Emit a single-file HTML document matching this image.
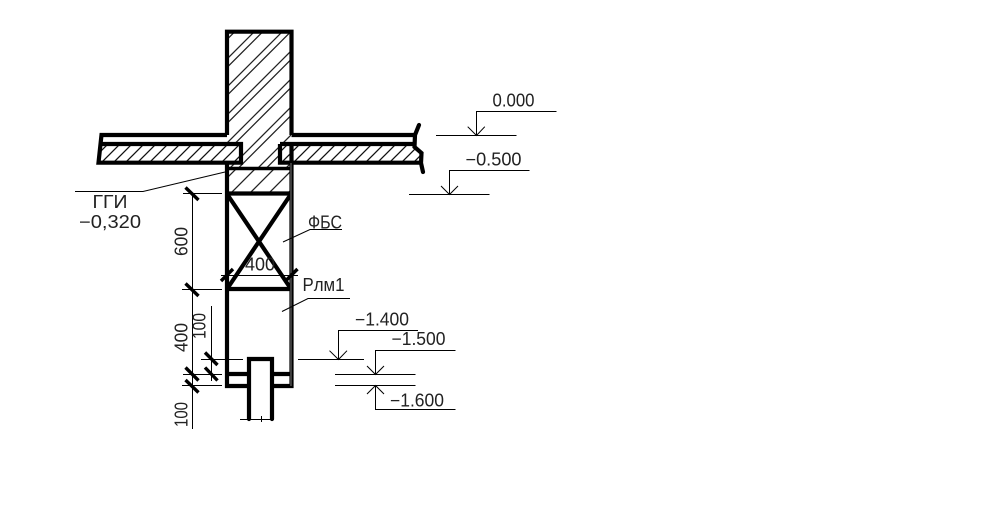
<!DOCTYPE html>
<html>
<head>
<meta charset="utf-8">
<style>
html,body{margin:0;padding:0;background:#fff;}
svg{display:block;}
text{font-family:"Liberation Sans",sans-serif;font-size:18px;fill:#222;}
</style>
</head>
<body>
<svg width="982" height="509" viewBox="0 0 982 509" xmlns="http://www.w3.org/2000/svg">
<defs>
<pattern id="h1" patternUnits="userSpaceOnUse" width="28" height="28">
<path d="M7 -1L-1 7M15.5 -1L-1 15.5M35 -1L-1 35M43.5 -1L-1 43.5" stroke="#222" stroke-width="1.3" fill="none"/>
</pattern>
<pattern id="h2" patternUnits="userSpaceOnUse" width="12" height="12">
<path d="M-1 13L13 -1M-7 7L7 -7M5 19L19 5" stroke="#111" stroke-width="1.3" fill="none"/>
</pattern>
<pattern id="h3" patternUnits="userSpaceOnUse" width="19" height="19" patternTransform="translate(6 0)">
<path d="M-1 20L20 -1M-10 10L10 -10M9 29L29 9" stroke="#222" stroke-width="1.3" fill="none"/>
</pattern>
</defs>
<rect width="982" height="509" fill="#fff"/>

<!-- hatching -->
<rect x="227" y="32" width="64" height="136" fill="url(#h1)"/>
<rect x="227" y="168" width="64" height="25" fill="url(#h3)"/>
<rect x="98" y="144" width="143" height="19" fill="#fff"/>
<polygon points="99.5,144 241,144 241,163 98,163" fill="url(#h2)"/>
<rect x="280" y="144" width="140" height="19" fill="#fff"/>
<polygon points="280,144 415,144 421,153 421,163 280,163" fill="url(#h2)"/>

<!-- heavy outlines -->
<g fill="none" stroke="#000" stroke-width="4.2">
<path d="M227 135V31.7H291.5V135"/>
<path d="M227 135H101.5L98.5 162.7H241V144H99.5"/>
<path d="M291.5 135H415"/>
<path d="M280 144H415M280 144V162.7H421"/>
<path d="M419 125L415 135L414.5 147L421.5 153L421 163L423 172" stroke-linecap="round"/>
<path d="M227 163V386H249M291.5 144V386H272"/>
<path d="M227 168.5H291.5" stroke-width="3.4"/>
<path d="M227 193.5H291.5"/>
<path d="M227 289H291.5"/>
<path d="M227 194L291 289M291 194L227 289"/>
<path d="M227 374H249M272 374H291.5"/>
<path d="M249 419V359H272V419" stroke-linecap="round"/>
</g>
<rect x="290.6" y="163" width="0.8" height="223" fill="#999"/>

<!-- dimensions -->
<g fill="none" stroke="#000" stroke-width="1">
<path d="M192.5 193V429"/>
<path d="M183 193.5H222M182 289.5H222M183 374.5H222M182 385.5H222"/>
<path d="M211.5 306V381M201 359.5H243"/>
<path d="M221 275.5H298"/>
<path d="M240 419.5H274M261.5 416V422"/>
<path d="M75 191.5H143L225 172"/>
<path d="M283 242L310 229.5H342"/>
<path d="M282 311.5L308 298.5H350"/>
<path d="M436 135.5H516.5M476.5 135.5V111.5H556.5M467.7 126.7L476.5 135.5L484.8 126.7"/>
<path d="M409 194.5H489.5M449.5 194.5V170.5H529.5M441 186L449.5 194.5L458 186"/>
<path d="M298 359.5H364M338.5 359.5V330.5H418M329.5 350.7L338.5 359.5L347 350.7"/>
<path d="M375.5 374.5V350.5H455.5M367 366L375.5 374.5L384 366"/>
<path d="M335 374.5H415.5M335 385.5H415.5"/>
<path d="M375.5 385.5V409.5H455.5M367 394L375.5 385.5L384 394"/>
</g>
<g fill="none" stroke="#000" stroke-width="3.4">
<path d="M185.5 187.5L198.5 200M185.5 283.5L198.5 296M185.5 367.5L198.5 380.5M185.5 380L198.5 392.5"/>
<path d="M205 352.5L217.5 365M205 367.5L217.5 380.5"/>
<path d="M221 281L233 269M285.5 281L297.5 269"/>
</g>

<!-- labels -->
<text x="492.5" y="106.5" textLength="42" lengthAdjust="spacingAndGlyphs">0.000</text>
<text x="465.5" y="165.5" textLength="56" lengthAdjust="spacingAndGlyphs">−0.500</text>
<text x="355" y="325.5" textLength="54" lengthAdjust="spacingAndGlyphs">−1.400</text>
<text x="391.5" y="345" textLength="54" lengthAdjust="spacingAndGlyphs">−1.500</text>
<text x="390" y="406.5" textLength="54" lengthAdjust="spacingAndGlyphs">−1.600</text>
<text x="92.5" y="208" textLength="35" lengthAdjust="spacingAndGlyphs">ГГИ</text>
<text x="79" y="228" textLength="62" lengthAdjust="spacingAndGlyphs">−0,320</text>
<text x="308" y="228.5" textLength="34" lengthAdjust="spacingAndGlyphs">ФБС</text>
<text x="302.5" y="291" textLength="42" lengthAdjust="spacingAndGlyphs">Рлм1</text>
<text x="245" y="270.5" textLength="30" lengthAdjust="spacingAndGlyphs">400</text>
<text transform="translate(187.5 256) rotate(-90)" textLength="29" lengthAdjust="spacingAndGlyphs">600</text>
<text transform="translate(187.5 352) rotate(-90)" textLength="29" lengthAdjust="spacingAndGlyphs">400</text>
<text transform="translate(187.5 427) rotate(-90)" textLength="25" lengthAdjust="spacingAndGlyphs">100</text>
<text transform="translate(205.5 339) rotate(-90)" textLength="26" lengthAdjust="spacingAndGlyphs">100</text>
</svg>
</body>
</html>
